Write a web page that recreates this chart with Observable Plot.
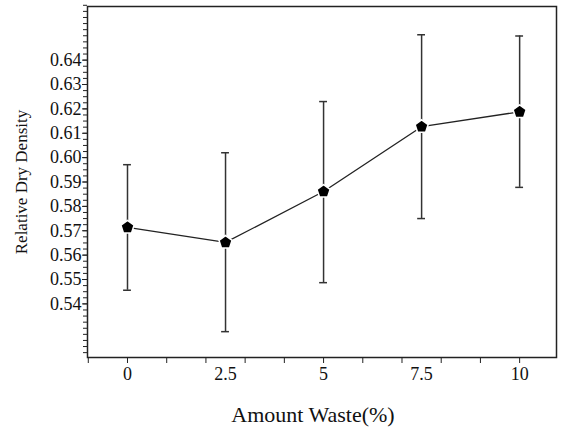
<!DOCTYPE html>
<html><head><meta charset="utf-8">
<script src="https://cdn.jsdelivr.net/npm/d3@7"></script>
<script src="https://cdn.jsdelivr.net/npm/@observablehq/plot@0.6"></script>
<style>body{margin:0;background:#fff}</style>
</head><body><div id="chart"></div>
<script>
const amounts = [0, 2.5, 5, 7.5, 10];
const density = [0.5714, 0.5652, 0.5861, 0.6127, 0.6188];
const upper = [0.5971, 0.6020, 0.6230, 0.6504, 0.6499];
const lower = [0.5456, 0.5286, 0.5487, 0.5750, 0.5878];
const xTickLabels = ["0", "2.5", "5", "7.5", "10"];
const yTickValues = [0.54, 0.55, 0.56, 0.57, 0.58, 0.59, 0.60, 0.61, 0.62, 0.63, 0.64];
const yTickLabels = ["0.54", "0.55", "0.56", "0.57", "0.58", "0.59", "0.60", "0.61", "0.62", "0.63", "0.64"];
const xMinorTicks = [-1, 0, 1, 2, 3, 4, 5, 6, 7, 8, 9, 10];
const yMinorTicks = d3.range(0, 58).map(i => 0.52 + i * 0.0025);
const xTitle = "Amount Waste(%)";
const yTitle = "Relative Dry Density";

const data = amounts.map((x, i) => ({x, y: density[i], hi: upper[i], lo: lower[i]}));

const pentagon = {
  draw(ctx, size) {
    const r = Math.sqrt(size / Math.PI) * 1.15;
    for (let k = 0; k < 5; k++) {
      const a = -Math.PI / 2 + k * 2 * Math.PI / 5;
      const px = r * Math.cos(a), py = r * Math.sin(a);
      if (k === 0) ctx.moveTo(px, py); else ctx.lineTo(px, py);
    }
    ctx.closePath();
  }
};

const serif = "'Liberation Serif', 'Times New Roman', serif";

const chart = Plot.plot({
  width: 564,
  height: 429,
  marginLeft: 87,
  marginRight: 8,
  marginTop: 6,
  marginBottom: 72,
  style: {fontFamily: serif, background: "#fff", color: "#111"},
  x: {domain: [-1.02, 10.94]},
  y: {domain: [0.518, 0.662]},
  marks: [
    Plot.frame({stroke: "#222", strokeWidth: 1.5}),
    Plot.axisY({ticks: yMinorTicks, tickFormat: () => "", tickSize: 4, stroke: "#222", label: null}),
    Plot.axisY({ticks: yTickValues, tickFormat: (d, i) => yTickLabels[i], tickSize: 5, tickPadding: 1, fontSize: 18, stroke: "#222", label: null}),
    Plot.axisX({ticks: xMinorTicks, tickFormat: () => "", tickSize: 6, stroke: "#222", label: null}),
    Plot.axisX({ticks: amounts, tickFormat: (d, i) => xTickLabels[i], tickSize: 0, tickPadding: 10, fontSize: 18, label: null}),
    Plot.ruleX(data, {x: "x", y1: "lo", y2: "hi", stroke: "#333", strokeWidth: 1.5}),
    Plot.ruleY(data, {y: "hi", x1: d => d.x - 0.1, x2: d => d.x + 0.1, stroke: "#333", strokeWidth: 1.5}),
    Plot.ruleY(data, {y: "lo", x1: d => d.x - 0.1, x2: d => d.x + 0.1, stroke: "#333", strokeWidth: 1.5}),
    Plot.line(data, {x: "x", y: "y", stroke: "#222", strokeWidth: 1.3}),
    Plot.dot(data, {x: "x", y: "y", symbol: pentagon, r: 6, fill: "#000", stroke: "#fff", strokeWidth: 1.5}),
    Plot.text([xTitle], {frameAnchor: "bottom", dy: 64, dx: -9, fontSize: 22, fill: "#111"}),
    Plot.text([yTitle], {frameAnchor: "left", dx: -66, rotate: -90, textAnchor: "middle", fontSize: 17, fill: "#111"})
  ]
});
document.getElementById("chart").appendChild(chart);
</script>
</body></html>
